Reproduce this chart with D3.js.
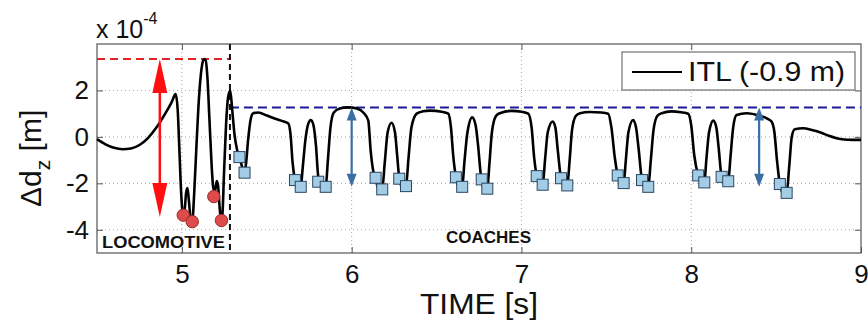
<!DOCTYPE html>
<html>
<head>
<meta charset="utf-8">
<script src="https://cdn.jsdelivr.net/npm/d3@7"></script>
<style>
  html, body { margin: 0; padding: 0; background: #fff; }
  svg { display: block; font-family: "Liberation Sans", Arial, Helvetica, sans-serif; }
</style>
</head>
<body>
<svg id="chart" width="868" height="321"></svg>
<script>
// Vertical track displacement Δd_z (×10^-4 m) at the ITL point, over time (s)
const curveTime = [
  4.50, 4.55, 4.60, 4.65, 4.70, 4.75, 4.80, 4.85, 4.90, 4.94, 4.963, 4.975, 4.985, 4.995,
  5.005, 5.015, 5.025, 5.033, 5.042, 5.052, 5.062, 5.072, 5.085, 5.100, 5.115, 5.130, 5.140,
  5.150, 5.162, 5.175, 5.185, 5.195, 5.205, 5.213, 5.222, 5.230, 5.238, 5.248, 5.260, 5.272,
  5.285, 5.296, 5.310, 5.325, 5.339, 5.355, 5.367, 5.377, 5.390, 5.405, 5.420, 5.450, 5.500,
  5.550, 5.600, 5.627, 5.640, 5.652, 5.666, 5.683, 5.700, 5.712, 5.728, 5.745, 5.760, 5.775,
  5.790, 5.803, 5.825, 5.847, 5.860, 5.875, 5.895, 5.930, 5.980, 6.030, 6.070, 6.098, 6.112,
  6.128, 6.141, 6.160, 6.180, 6.195, 6.212, 6.235, 6.255, 6.268, 6.280, 6.300, 6.320, 6.335,
  6.352, 6.383, 6.420, 6.461, 6.530, 6.569, 6.585, 6.598, 6.614, 6.633, 6.651, 6.665, 6.682,
  6.710, 6.730, 6.745, 6.760, 6.782, 6.799, 6.812, 6.826, 6.850, 6.873, 6.942, 7.000, 7.040,
  7.060, 7.075, 7.090, 7.110, 7.125, 7.140, 7.155, 7.184, 7.200, 7.213, 7.233, 7.253, 7.270,
  7.284, 7.298, 7.320, 7.345, 7.403, 7.470, 7.511, 7.530, 7.550, 7.567, 7.585, 7.602, 7.616,
  7.630, 7.658, 7.675, 7.690, 7.710, 7.730, 7.747, 7.762, 7.778, 7.800, 7.826, 7.884, 7.940,
  7.982, 8.000, 8.018, 8.041, 8.060, 8.077, 8.090, 8.105, 8.130, 8.148, 8.162, 8.179, 8.200,
  8.218, 8.232, 8.247, 8.267, 8.326, 8.404, 8.450, 8.473, 8.490, 8.505, 8.522, 8.545, 8.562,
  8.578, 8.592, 8.610, 8.659, 8.710, 8.758, 8.810, 8.856, 8.920, 9.000
];
const curveDz = [
  -0.10, -0.32, -0.47, -0.53, -0.50, -0.35, -0.05, 0.40, 0.98, 1.50, 1.84, 1.20, -0.50, -2.30,
  -3.25, -3.20, -2.40, -2.20, -2.80, -3.55, -3.55, -2.50, -0.50, 1.60, 2.90, 3.35, 3.30,
  2.60, 0.80, -1.20, -2.20, -2.35, -1.90, -2.10, -3.00, -3.55, -3.40, -1.60, 0.50, 1.70,
  2.00, 1.20, 0.10, -0.55, -0.87, -1.30, -1.58, -1.20, -0.13, 0.75, 1.02, 1.05, 0.92,
  0.78, 0.66, 0.58, 0.10, -1.10, -1.86, -2.20, -2.15, -1.30, -0.10, 0.58, 0.73, 0.50,
  -0.40, -1.70, -2.22, -2.15, -1.00, 0.40, 1.05, 1.22, 1.27, 1.22, 1.04, 0.70, -0.60,
  -1.50, -1.80, -2.28, -2.24, -1.10, 0.20, 0.61, 0.20, -0.80, -1.75, -2.20, -2.10, -0.90,
  0.40, 1.00, 1.10, 1.13, 1.08, 1.00, 0.40, -0.80, -1.74, -2.20, -2.15, -1.00, 0.20,
  0.84, 0.50, -0.40, -1.60, -2.28, -2.20, -1.10, 0.20, 0.90, 1.02, 1.12, 1.08, 1.00,
  0.40, -0.90, -1.69, -2.10, -2.06, -0.90, 0.20, 0.66, 0.40, -0.50, -1.78, -2.12, -2.09,
  -1.00, 0.30, 0.90, 1.02, 1.07, 1.05, 1.00, 0.40, -0.90, -1.66, -2.05, -1.99, -0.90,
  0.20, 0.73, 0.40, -0.50, -1.86, -2.18, -2.15, -1.00, 0.30, 0.90, 1.02, 1.10, 1.06,
  1.00, 0.50, -0.80, -1.66, -2.00, -1.96, -0.90, 0.20, 0.70, 0.40, -0.50, -1.72, -1.98,
  -1.91, -0.80, 0.40, 0.94, 1.02, 0.91, 0.78, 0.66, 0.20, -1.00, -2.03, -2.45, -2.41,
  -1.20, 0.00, 0.33, 0.37, 0.30, 0.20, 0.05, -0.06, -0.12, -0.13
];

// Locomotive wheel passages (red circles)
const locoTime = [5.008, 5.061, 5.188, 5.233];
const locoDz   = [-3.37, -3.65, -2.57, -3.60];

// Coach wheel passages (blue squares)
const coachTime = [5.339, 5.369, 5.666, 5.700, 5.803, 5.847, 6.141, 6.180, 6.280, 6.320,
                   6.614, 6.651, 6.766, 6.799, 7.090, 7.125, 7.233, 7.270, 7.567, 7.602,
                   7.710, 7.747, 8.041, 8.077, 8.179, 8.218, 8.522, 8.562];
const coachDz   = [-0.87, -1.54, -1.86, -2.15, -1.93, -2.15, -1.76, -2.26, -1.80, -2.12,
                   -1.74, -2.15, -1.83, -2.23, -1.69, -2.06, -1.78, -2.09, -1.66, -1.99,
                   -1.86, -2.15, -1.66, -1.96, -1.72, -1.91, -2.03, -2.41];

// Reference levels and range arrows
const locoPeakDz = 3.35;
const coachPeakDz = 1.27;
const boundaryTime = 5.283;
const locoArrowTime = 4.87, locoArrowLow = -3.45;
const coachArrowTime = [6.0, 8.4];
const coachArrowLow = [-2.15, -2.15];

// Axis ticks
const xTicks = [5, 6, 7, 8, 9];
const yTicks = [-4, -2, 0, 2];
const xDomain = [4.5, 9];
const yDomain = [-5, 4];

const svg = d3.select("#chart");
const margin = { top: 44, right: 7, bottom: 68, left: 97 };
const W = 868, H = 321;

const x = d3.scaleLinear().domain(xDomain).range([margin.left, W - margin.right]);
const y = d3.scaleLinear().domain(yDomain).range([H - margin.bottom, margin.top]);

const axisColor = "#555";

// grid
const grid = svg.append("g").attr("stroke", "#a8a8a8").attr("stroke-width", 1).attr("stroke-dasharray", "1,3");
grid.selectAll("line.gx").data(xTicks.filter(d => d < xDomain[1])).join("line")
  .attr("x1", d => x(d)).attr("x2", d => x(d)).attr("y1", y(yDomain[0])).attr("y2", y(yDomain[1]));
grid.selectAll("line.gy").data(yTicks).join("line")
  .attr("y1", d => y(d)).attr("y2", d => y(d)).attr("x1", x(xDomain[0])).attr("x2", x(xDomain[1]));

// axes (ticks point inward)
const fmt = d => String(d);
const gBottom = svg.append("g").attr("transform", `translate(0,${y(yDomain[0])})`)
  .call(d3.axisBottom(x).tickValues(xTicks).tickSizeInner(-6).tickSizeOuter(0).tickPadding(12).tickFormat(fmt));
const gLeft = svg.append("g").attr("transform", `translate(${x(xDomain[0])},0)`)
  .call(d3.axisLeft(y).tickValues(yTicks).tickSizeInner(-6).tickSizeOuter(0).tickPadding(8).tickFormat(fmt));
const gTop = svg.append("g").attr("transform", `translate(0,${y(yDomain[1])})`)
  .call(d3.axisTop(x).tickValues(xTicks.filter(d => d < xDomain[1])).tickSizeInner(-6).tickSizeOuter(0).tickFormat(""));
const gRight = svg.append("g").attr("transform", `translate(${x(xDomain[1])},0)`)
  .call(d3.axisRight(y).tickValues(yTicks).tickSizeInner(-6).tickSizeOuter(0).tickFormat(""));
[gBottom, gLeft, gTop, gRight].forEach(g => {
  g.select(".domain").remove();
  g.selectAll(".tick line").attr("stroke", axisColor).attr("stroke-width", 1);
  g.selectAll(".tick text").attr("fill", "#111").style("font-size", "26px")
    .style("font-family", "'Liberation Sans', Arial, sans-serif");
});

// frame
svg.append("rect")
  .attr("x", x(xDomain[0])).attr("y", y(yDomain[1]))
  .attr("width", x(xDomain[1]) - x(xDomain[0])).attr("height", y(yDomain[0]) - y(yDomain[1]))
  .attr("fill", "none").attr("stroke", axisColor).attr("stroke-width", 1.2);

// reference levels
svg.append("line")
  .attr("x1", x(xDomain[0])).attr("x2", x(boundaryTime))
  .attr("y1", y(locoPeakDz)).attr("y2", y(locoPeakDz))
  .attr("stroke", "#e02424").attr("stroke-width", 2).attr("stroke-dasharray", "8,5");
svg.append("line")
  .attr("x1", x(boundaryTime)).attr("x2", x(xDomain[1]))
  .attr("y1", y(coachPeakDz)).attr("y2", y(coachPeakDz))
  .attr("stroke", "#1a1a9c").attr("stroke-width", 2).attr("stroke-dasharray", "9,5");
svg.append("line")
  .attr("x1", x(boundaryTime)).attr("x2", x(boundaryTime))
  .attr("y1", y(yDomain[1])).attr("y2", y(yDomain[0]))
  .attr("stroke", "#111").attr("stroke-width", 2).attr("stroke-dasharray", "6,4");

// displacement curve
const line = d3.line().x(d => x(d[0])).y(d => y(d[1])).curve(d3.curveMonotoneX);
svg.append("path")
  .datum(curveTime.map((t, i) => [t, curveDz[i]]))
  .attr("d", line)
  .attr("fill", "none").attr("stroke", "#000").attr("stroke-width", 2.6)
  .attr("stroke-linejoin", "round");

// double-headed arrows
function doubleArrow(t, top, bottom, color, shaftW, headW, headL) {
  const cx = x(t), y1 = y(top), y2 = y(bottom);
  const g = svg.append("g");
  g.append("line").attr("x1", cx).attr("x2", cx).attr("y1", y1 + headL * 0.8).attr("y2", y2 - headL * 0.8)
    .attr("stroke", color).attr("stroke-width", shaftW);
  g.append("path").attr("d", `M${cx},${y1} L${cx - headW / 2},${y1 + headL} L${cx + headW / 2},${y1 + headL} Z`).attr("fill", color);
  g.append("path").attr("d", `M${cx},${y2} L${cx - headW / 2},${y2 - headL} L${cx + headW / 2},${y2 - headL} Z`).attr("fill", color);
}
doubleArrow(locoArrowTime, locoPeakDz, locoArrowLow, "#ff1010", 2.5, 15, 34);
coachArrowTime.forEach((t, i) => doubleArrow(t, coachPeakDz, coachArrowLow[i], "#3a6ea5", 2.2, 10, 13));

// wheel markers
svg.append("g").selectAll("circle").data(locoTime.map((t, i) => [t, locoDz[i]])).join("circle")
  .attr("cx", d => x(d[0])).attr("cy", d => y(d[1])).attr("r", 6.2)
  .attr("fill", "#de4b4b").attr("stroke", "#9a2a2a").attr("stroke-width", 1);
const sq = 11;
svg.append("g").selectAll("rect").data(coachTime.map((t, i) => [t, coachDz[i]])).join("rect")
  .attr("x", d => x(d[0]) - sq / 2).attr("y", d => y(d[1]) - sq / 2).attr("width", sq).attr("height", sq)
  .attr("fill", "#a3cde6").attr("stroke", "#2b4660").attr("stroke-width", 1);

// section labels
svg.append("text").attr("x", 102).attr("y", 248).text("LOCOMOTIVE")
  .style("font-size", "17px").style("font-weight", "bold").attr("fill", "#111")
  .attr("textLength", 123).attr("lengthAdjust", "spacingAndGlyphs");
svg.append("text").attr("x", 446).attr("y", 243).text("COACHES")
  .style("font-size", "17px").style("font-weight", "bold").attr("fill", "#111")
  .attr("textLength", 85).attr("lengthAdjust", "spacingAndGlyphs");

// legend
const lg = svg.append("g");
lg.append("rect").attr("x", 622).attr("y", 52).attr("width", 233).attr("height", 38)
  .attr("fill", "#fff").attr("stroke", "#555").attr("stroke-width", 1);
lg.append("line").attr("x1", 632).attr("x2", 682).attr("y1", 72).attr("y2", 72)
  .attr("stroke", "#000").attr("stroke-width", 2);
lg.append("text").attr("x", 688).attr("y", 81).text("ITL (-0.9 m)")
  .style("font-size", "27px").attr("fill", "#111")
  .attr("textLength", 157).attr("lengthAdjust", "spacingAndGlyphs");

// axis titles
svg.append("text").attr("x", 479).attr("y", 314).attr("text-anchor", "middle")
  .style("font-size", "30px").attr("fill", "#111").text("TIME [s]")
  .attr("textLength", 118).attr("lengthAdjust", "spacingAndGlyphs");

const yl = svg.append("text").attr("transform", "translate(41,207) rotate(-90)")
  .style("font-size", "30px").attr("fill", "#111");
yl.append("tspan").text("Δd");
yl.append("tspan").attr("dy", 9).style("font-size", "21px").text("z");
yl.append("tspan").attr("dy", -9).text(" [m]");

// exponent
const ex = svg.append("text").attr("x", 96).attr("y", 38).style("font-size", "25px").attr("fill", "#111");
ex.append("tspan").text("x 10");
ex.append("tspan").attr("dy", -14).style("font-size", "16px").text("-4");
</script>
</body>
</html>
